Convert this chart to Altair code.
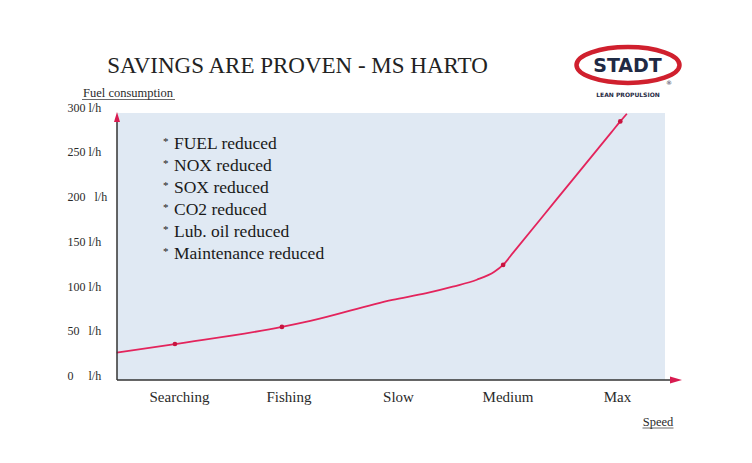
import altair as alt
import pandas as pd

title_text = "SAVINGS ARE PROVEN - MS HARTO"
y_title = "Fuel consumption"
x_title = "Speed"
categories = ["Searching", "Fishing", "Slow", "Medium", "Max"]
category_pos = [1, 2, 3, 4, 5]
y_ticks = [0, 50, 100, 150, 200, 250, 300]
y_tick_labels = ["0\u00a0\u00a0\u00a0\u00a0\u00a0l/h", "50\u00a0\u00a0\u00a0l/h", "100 l/h",
                 "150 l/h", "200\u00a0\u00a0\u00a0l/h", "250 l/h", "300 l/h"]
line_x = [0.431, 0.963, 1.94, 2.20, 2.95, 3.26, 3.50, 3.72, 3.88, 3.96, 4.05, 4.45, 4.95, 5.03, 5.09]
line_y = [25.5, 35.2, 54.3, 61.0, 84.5, 92.0, 99.3, 107.0, 116.0, 123.6, 137.0, 197.0, 272.0, 283.9, 292.5]
marker_x = [0.963, 1.94, 3.96, 5.03]
marker_y = [35.2, 54.3, 123.6, 283.9]
bullets = ["FUEL reduced", "NOX reduced", "SOX reduced", "CO2 reduced",
           "Lub. oil reduced", "Maintenance reduced"]
logo_text = "STADT"
logo_sub = "LEAN PROPULSION"

SERIF = "Liberation Serif"
W, H = 553, 273

line_df = pd.DataFrame({"x": line_x, "y": line_y})
marker_df = pd.DataFrame({"x": marker_x, "y": marker_y})
one = alt.Data(values=[{"k": 1}])

x_expr = "[" + ",".join("'%s'" % c for c in categories) + "][datum.value - 1]"
y_expr = "{" + ",".join("'%d':'%s'" % (v, l) for v, l in zip(y_ticks, y_tick_labels)) + "}[datum.value]"

x_scale = alt.Scale(domain=[0.434, 5.484], nice=False, zero=False)
y_scale = alt.Scale(domain=[-5, 300], nice=False, zero=False)

x_axis = alt.Axis(values=category_pos, labelExpr=x_expr, title=None, grid=False, domain=False,
                  ticks=False, tickSize=0, labelPadding=9, labelFont=SERIF, labelFontSize=15,
                  labelColor="#2a2a2a")
y_axis = alt.Axis(values=y_ticks, labelExpr=y_expr, title=None, grid=False, domain=False,
                  ticks=False, tickSize=0, labelPadding=50, labelAlign="left", labelFont=SERIF,
                  labelFontSize=12, labelColor="#2a2a2a")

bg = alt.Chart(one).mark_rect(color="#e0e9f3").encode(
    x=alt.value(0), x2=alt.value(548), y=alt.value(6), y2=alt.value(273))

line = alt.Chart(line_df).mark_line(color="#e3245c", strokeWidth=1.8, interpolate="monotone").encode(
    x=alt.X("x:Q", scale=x_scale, axis=x_axis),
    y=alt.Y("y:Q", scale=y_scale, axis=y_axis),
)
markers = alt.Chart(marker_df).mark_point(filled=True, size=22, color="#c8143f", opacity=1).encode(
    x=alt.X("x:Q", scale=x_scale), y=alt.Y("y:Q", scale=y_scale))

x_rule = alt.Chart(one).mark_rule(color="#333", strokeWidth=1.5).encode(
    x=alt.value(0), x2=alt.value(556), y=alt.value(273))
y_rule = alt.Chart(one).mark_rule(color="#333", strokeWidth=1.5).encode(
    x=alt.value(0), y=alt.value(10), y2=alt.value(273))
up_arrow = alt.Chart(one).mark_point(shape="M0,-1L0.6,1L-0.6,1Z", filled=True, size=100,
                                     color="#d81b50", opacity=1).encode(
    x=alt.value(0), y=alt.value(10))
right_arrow = alt.Chart(one).mark_point(shape="M1,0L-1,0.6L-1,-0.6Z", filled=True, size=144,
                                        color="#d81b50", opacity=1).encode(
    x=alt.value(559), y=alt.value(273))

title = alt.Chart(one).mark_text(text=title_text, font=SERIF, fontSize=23, color="#222",
                                 align="center", baseline="alphabetic").encode(
    x=alt.value(180.5), y=alt.value(-34))

bul_text = alt.Chart(one).mark_text(text="\n".join(bullets), lineBreak="\n", lineHeight=22,
                                    font=SERIF, fontSize=17.5, color="#1a1a1a", align="left",
                                    baseline="alphabetic").encode(
    x=alt.value(57), y=alt.value(42))
bul_star = alt.Chart(one).mark_text(text="\n".join(["*"] * len(bullets)), lineBreak="\n",
                                    lineHeight=22, font=SERIF, fontSize=11, color="#1a1a1a",
                                    align="left", baseline="alphabetic").encode(
    x=alt.value(46), y=alt.value(38))

ytitle = alt.Chart(one).mark_text(text=y_title, font=SERIF, fontSize=12.5, color="#2a2a2a",
                                  align="center", baseline="alphabetic").encode(
    x=alt.value(11), y=alt.value(-10))
ytitle_u = alt.Chart(one).mark_rule(color="#444", strokeWidth=0.8).encode(
    x=alt.value(-35), x2=alt.value(58), y=alt.value(-7.5))
xtitle = alt.Chart(one).mark_text(text=x_title, font=SERIF, fontSize=12.5, color="#2a2a2a",
                                  align="center", baseline="alphabetic").encode(
    x=alt.value(541), y=alt.value(319))
xtitle_u = alt.Chart(one).mark_rule(color="#444", strokeWidth=0.8).encode(
    x=alt.value(525.5), x2=alt.value(556.5), y=alt.value(321))

ellipse = alt.Chart(one).mark_point(shape="M-1,0A1,0.35 0 1,1 1,0A1,0.35 0 1,1 -1,0Z",
                                    filled=False, size=10609, strokeWidth=4.5, color="#d0202e",
                                    opacity=1).encode(
    x=alt.value(511), y=alt.value(-42))
logo = alt.Chart(one).mark_text(text=logo_text, font="DejaVu Sans", fontWeight="bold",
                                fontSize=19, color="#1f2a44", align="center",
                                baseline="middle").encode(
    x=alt.value(510.5), y=alt.value(-41))
logo2 = alt.Chart(one).mark_text(text=logo_sub, font="DejaVu Sans", fontWeight="bold",
                                 fontSize=6, color="#1f2a44",
                                 align="center", baseline="middle").encode(
    x=alt.value(511), y=alt.value(-12))
reg = alt.Chart(one).mark_text(text="\u00ae", font="DejaVu Sans", fontSize=6, color="#1f2a44",
                               align="center", baseline="middle").encode(
    x=alt.value(552), y=alt.value(-24))

chart = alt.layer(
    bg, line, markers, x_rule, y_rule, up_arrow, right_arrow, title, bul_star, bul_text,
    ytitle, ytitle_u, xtitle, xtitle_u, ellipse, logo, logo2, reg
).properties(
    width=W, height=H,
    autosize=alt.AutoSizeParams(type="none"),
    padding={"left": 109, "top": 99, "right": 74, "bottom": 71},
    background="white",
).configure_view(stroke=None)

chart.save("out.html", embed_options={"renderer": "svg", "actions": False})
